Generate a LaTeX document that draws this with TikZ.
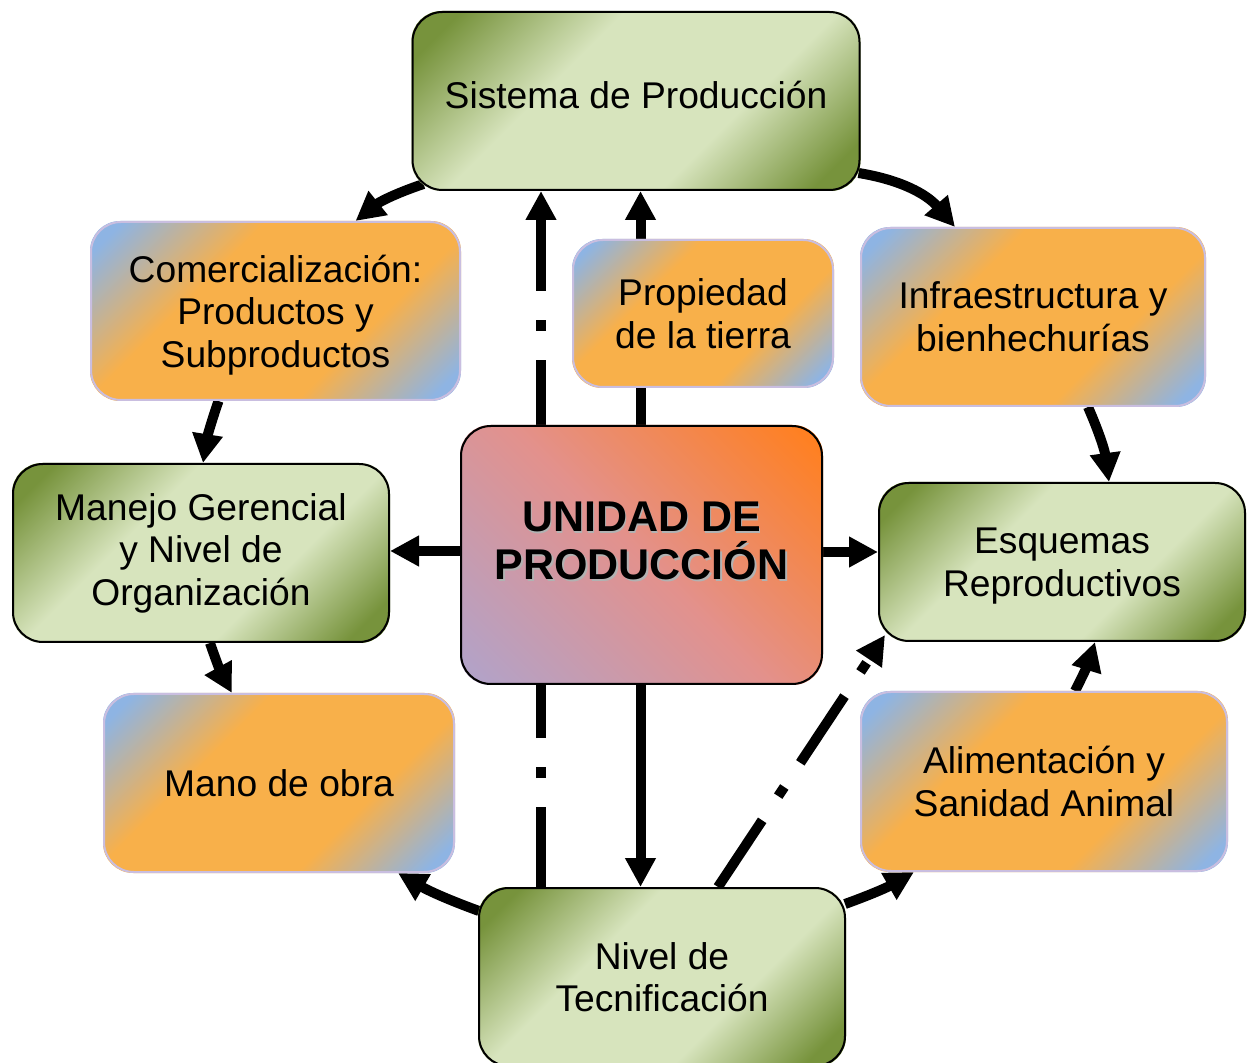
\documentclass[tikz,border=0pt]{standalone}
\usepackage{fontspec}
\setmainfont{Liberation Sans}
\usetikzlibrary{arrows.meta,calc}

\definecolor{gdark}{HTML}{77933C}
\definecolor{glight}{HTML}{D7E4BD}
\definecolor{oblue}{HTML}{8EB4E3}
\definecolor{oorange}{HTML}{F8B04A}
\definecolor{olilac}{HTML}{C9BEE0}
\definecolor{clav}{HTML}{B3A2C7}
\definecolor{cpink}{HTML}{E3918C}
\definecolor{corange}{HTML}{FF8021}

\pgfdeclarehorizontalshading{greenshade}{100bp}{color(0bp)=(gdark); color(29bp)=(gdark); color(42bp)=(glight); color(59bp)=(glight); color(71bp)=(gdark); color(100bp)=(gdark)}
\pgfdeclarehorizontalshading{orangeshade}{100bp}{color(0bp)=(oblue); color(28bp)=(oblue); color(41bp)=(oorange); color(60bp)=(oorange); color(72bp)=(oblue); color(100bp)=(oblue)}
\pgfdeclarehorizontalshading{coreshade}{100bp}{color(0bp)=(clav); color(27bp)=(clav); color(50bp)=(cpink); color(73bp)=(corange); color(100bp)=(corange)}

\pgfdeclarelayer{back}
\pgfdeclarelayer{fills}
\pgfsetlayers{back,fills,main}

% diagonal gradient inside a box, #1 node, #2 shading, #3 angle
\newcommand{\boxfill}[3]{%
  \begin{scope}
    \clip[rounded corners=15pt] (#1.south west) rectangle (#1.north east);
    \shade[shading=#2, transform canvas={shift={(#1.center)}, rotate=#3}]
      let \p1=(#1.north east), \p2=(#1.south west),
          \n1={(\x1-\x2+\y1-\y2)/(2*sqrt(2))} in
      (-\n1,-\n1) rectangle (\n1,\n1);
  \end{scope}}

\tikzset{
  box/.style={rounded corners=15pt, align=center, inner sep=0pt,
    font=\fontsize{18.6}{21.3}\selectfont},
  greenbox/.style={box, draw=black, line width=1pt},
  orangebox/.style={box, draw=olilac, line width=1pt},
  corebox/.style={box, draw=black, line width=1pt},
  title/.style={align=center, font=\fontsize{21.5}{24}\selectfont\bfseries},
  link/.style={line width=5pt, -{Triangle[length=14.5pt,width=14.5pt]}},
  dashlink/.style={link, dash pattern=on 40pt off 14.5pt on 5.5pt off 14.5pt}
}

\begin{document}
\begin{tikzpicture}[x=0.5pt, y=-0.5pt]
	\useasboundingbox (0,0) rectangle (1248,1063);

	% boxes
	\node[greenbox, minimum width=223.5pt, minimum height=89pt, text depth=6pt] (sis) at (636,101) {Sistema de Producción};
	\node[orangebox, minimum width=184.5pt, minimum height=89pt, text depth=0pt] (com) at (275.5,311) {Comercialización:\\Productos y\\Subproductos};
	\node[orangebox, minimum width=130pt, minimum height=73.5pt] (pro) at (703,313.5) {Propiedad\\de la tierra};
	\node[orangebox, minimum width=172pt, minimum height=89pt] (inf) at (1033,317) {Infraestructura y\\bienhechurías};
	\node[greenbox, minimum width=188pt, minimum height=89pt] (man) at (201,553) {Manejo Gerencial\\y Nivel de\\Organización};
	\node[corebox, minimum width=180.5pt, minimum height=129pt] (uni) at (641.5,555) {};
	\node[title, text=gray!60] (unishadow) at ([xshift=0.9pt,yshift=6.1pt]uni.center) {UNIDAD DE\\PRODUCCIÓN};
	\node[title] (unitext) at ([yshift=7pt]uni.center) {UNIDAD DE\\PRODUCCIÓN};
	\node[greenbox, minimum width=183pt, minimum height=79pt, text depth=-2pt] (esq) at (1062,562) {Esquemas\\Reproductivos};
	\node[orangebox, minimum width=175pt, minimum height=89pt, text depth=-1.5pt] (mano) at (279,783) {Mano de obra};
	\node[orangebox, minimum width=183pt, minimum height=89.5pt] (ali) at (1044,781.5) {Alimentación y\\Sanidad Animal};
	\node[greenbox, minimum width=183pt, minimum height=89pt] (niv) at (662,977) {Nivel de\\Tecnificación};

	\coordinate (dd) at ([xshift=-60.5pt]niv.north);

	% gradients
	\begin{pgfonlayer}{fills}
		\foreach \b in {sis,man,esq,niv} {\boxfill{\b}{greenshade}{-45}}
		\foreach \b in {com,pro,inf,mano,ali} {\boxfill{\b}{orangeshade}{-45}}
		\boxfill{uni}{coreshade}{45}
	\end{pgfonlayer}

	% connectors
	\begin{pgfonlayer}{back}
		\draw[link] ([xshift=6pt,yshift=3.5pt]sis.south west) to[bend right=10] ([xshift=40pt]com.north);
		\draw[link] ([xshift=-1pt,yshift=9pt]sis.south east) to[bend left=20] ([xshift=-39pt]inf.north);
		\draw[link] ([xshift=-28.5pt]com.south) to[bend right=5] ([xshift=1pt]man.north);
		\draw[link] ([xshift=27.5pt]inf.south) to[bend left=8] ([xshift=23.5pt]esq.north);
		\draw[link] ([xshift=4.5pt]man.south) to[bend right=5] ([xshift=-23.5pt]mano.north);
		\draw[link] ([xshift=15.5pt]ali.north) to[bend right=5] ([xshift=16.5pt]esq.south);
		\draw[link] ([xshift=0.5pt,yshift=-12pt]niv.north west) to[bend left=5] ([xshift=-28.5pt]mano.south east);
		\draw[link] ([xshift=-0.5pt,yshift=-8.5pt]niv.north east) to[bend right=5] ([xshift=27pt]ali.south west);
		\draw[link] ([yshift=2pt]uni.west) -- ([yshift=2pt]uni.west -| man.east);
		\draw[link] ([yshift=1.5pt]uni.east) -- ([yshift=1.5pt]uni.east -| esq.west);
		\draw[link] ([xshift=-0.5pt]uni.south) -- ([xshift=-0.5pt]uni.south |- niv.north);
		\draw[link] ([xshift=-0.5pt]uni.north) -- ([xshift=-0.5pt]uni.north |- sis.south);
		\draw[dashlink] (dd) -- (dd |- sis.south);
		\draw[dashlink] ([xshift=28pt]niv.north) -- ([xshift=3.5pt,yshift=3.5pt]esq.south west);
	\end{pgfonlayer}
\end{tikzpicture}
\end{document}
